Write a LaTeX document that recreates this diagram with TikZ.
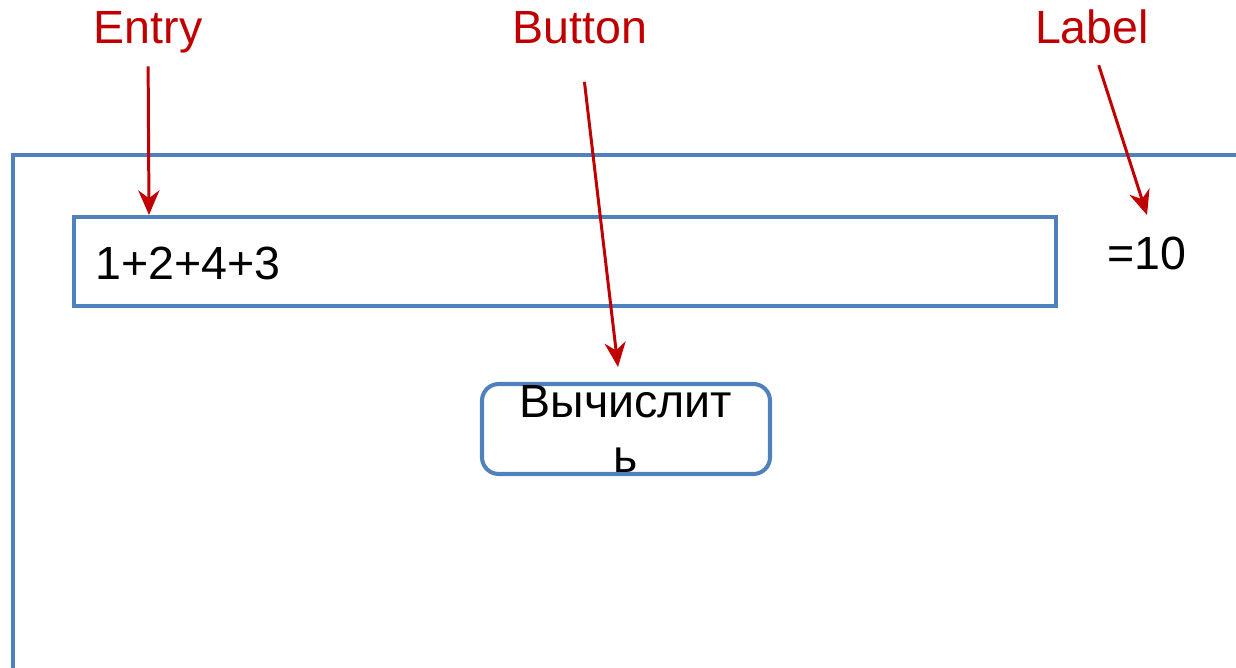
\documentclass[tikz,border=0pt]{standalone}
\usepackage{fontspec}
\setmainfont{Liberation Sans}
\usetikzlibrary{arrows.meta}
\definecolor{winblue}{RGB}{79,129,189}
\definecolor{markred}{RGB}{192,0,0}
\begin{document}
\begin{tikzpicture}[
            x=0.02cm, y=-0.02cm,
            frame/.style={draw=winblue,line width=2.3pt},
            field/.style={rectangle,draw=winblue,line width=2.3pt,inner sep=0pt,outer sep=0pt},
            btn/.style={rectangle,rounded corners=9.5pt,draw=winblue,line width=2.3pt,
                minimum width=288*0.02cm,minimum height=90*0.02cm,align=center,inner sep=0pt,
                font=\fontsize{26.5pt}{31.7pt}\selectfont},
            value/.style={inner sep=0pt,font=\fontsize{26.5pt}{31.7pt}\selectfont},
            caption/.style={inner sep=0pt,text depth=0pt,text=markred,font=\fontsize{26.5pt}{31.7pt}\selectfont},
            pointer/.style={draw=markred,line width=1.7pt,-{Stealth[length=14pt,width=12pt,inset=4.5pt]}}]
                    % Define window
            \useasboundingbox (0,0) rectangle (1236,668);
            \draw[frame] (13,668) -- (13,155) -- (1236,155);
                    % Define widgets
            \node[field,minimum width=982*0.02cm,minimum height=89*0.02cm,anchor=north west] (entry) at (74,217) {};
            \node[value,anchor=base west] (expr) at (95,280) {1+2+4+3};
            \node[value,anchor=base west] (result) at (1107,270) {=10};
            \node[btn] (calc) at (626,429) {Вычислит\\ь};
                    % Define captions
            \node[caption,anchor=base] (entrycap) at (148,44) {Entry};
            \node[caption,anchor=base] (calccap) at (580,44) {Button};
            \node[caption,anchor=base] (resultcap) at (1092,44) {Label};
            \coordinate (entrytip) at (149,215);
            \coordinate (calctip) at (618,367);
            \coordinate (resulttip) at (1147,215);
                    % Define pointers
            \draw[pointer,shorten <=12.5pt] (entrycap.south) -- (entrytip);
            \draw[pointer,shorten <=21.5pt] (calccap.south) -- (calctip);
            \draw[pointer,shorten <=12.5pt] (resultcap.south) -- (resulttip);
        \end{tikzpicture}
\end{document}
